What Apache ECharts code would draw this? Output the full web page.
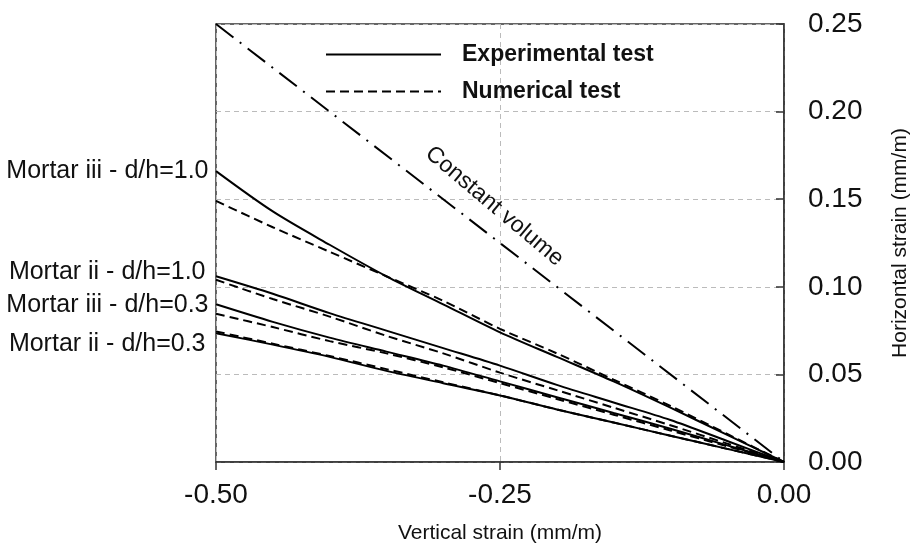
<!DOCTYPE html>
<html>
<head>
<meta charset="utf-8">
<script src="https://cdn.jsdelivr.net/npm/echarts@6/dist/echarts.min.js"></script>
<style>html,body{margin:0;padding:0;background:#fff;}#c{width:923px;height:550px;}</style>
</head>
<body>
<div id="c"></div>
<script>
// Vertical strain (x) sample points
const strainX = [-0.5, -0.45, -0.4, -0.35, -0.3, -0.25, -0.2, -0.15, -0.1, -0.05, 0];
// Experimental test (solid)
const expIii10 = [0.166, 0.143, 0.124, 0.106, 0.090, 0.074, 0.060, 0.046, 0.031, 0.0155, 0];
const expIi10  = [0.106, 0.096, 0.085, 0.075, 0.065, 0.055, 0.044, 0.034, 0.024, 0.012, 0];
const expIii03 = [0.090, 0.080, 0.071, 0.063, 0.055, 0.046, 0.037, 0.028, 0.019, 0.0095, 0];
const expIi03  = [0.0735, 0.067, 0.060, 0.052, 0.045, 0.038, 0.030, 0.0225, 0.015, 0.0075, 0];
// Numerical test (dashed)
const numIii10 = [0.149, 0.134, 0.120, 0.106, 0.092, 0.076, 0.062, 0.047, 0.032, 0.016, 0];
const numIi10  = [0.104, 0.093, 0.083, 0.072, 0.062, 0.051, 0.041, 0.031, 0.021, 0.0105, 0];
const numIii03 = [0.0846, 0.077, 0.069, 0.062, 0.054, 0.045, 0.036, 0.027, 0.018, 0.009, 0];
const numIi03  = [0.0745, 0.0675, 0.0605, 0.053, 0.0455, 0.038, 0.030, 0.0225, 0.015, 0.0075, 0];
// Constant volume line
const constX = [-0.5, 0];
const constY = [0.25, 0];
// Curve labels
const curveLabels = ["Mortar iii - d/h=1.0", "Mortar ii - d/h=1.0", "Mortar iii - d/h=0.3", "Mortar ii - d/h=0.3"];
const legendNames = ["Experimental test", "Numerical test"];
const constLabel = "Constant volume";

const FONT = 'Liberation Sans, Arial, sans-serif';
const labelOffsets = [[0, 0], [-3, -4], [0, 1], [-3, 11]];

function pairs(xs, ys) { return xs.map((x, i) => [x, ys[i]]); }

function expSeries(ys, idx) {
  return { name: legendNames[0], type: 'line', data: pairs(strainX, ys), smooth: 0.3, symbol: 'none', showSymbol: false,
    lineStyle: { color: '#000', width: 2, type: 'solid' }, itemStyle: { color: '#000' }, z: 3,
    markPoint: {
      symbol: 'circle', symbolSize: 1, itemStyle: { color: 'rgba(0,0,0,0)' }, silent: true,
      data: [{ coord: [strainX[0], ys[0]], name: curveLabels[idx] }],
      label: { show: true, position: 'left', distance: 7, offset: labelOffsets[idx], formatter: '{b}',
        fontSize: 25, color: '#111', fontFamily: FONT }
    } };
}
function numSeries(ys) {
  return { name: legendNames[1], type: 'line', data: pairs(strainX, ys), smooth: 0.3, symbol: 'none', showSymbol: false,
    lineStyle: { color: '#000', width: 2, type: [9, 5] }, itemStyle: { color: '#000' }, z: 3 };
}

const chart = echarts.init(document.getElementById('c'), null, { renderer: 'canvas' });
const option = {
  animation: false,
  backgroundColor: '#fff',
  textStyle: { fontFamily: FONT },
  grid: { left: 216, right: 139, top: 24, bottom: 88, show: true, borderColor: '#333', borderWidth: 1.5, containLabel: false },
  legend: {
    data: legendNames,
    orient: 'vertical', left: 320, top: 38,
    itemWidth: 115, itemHeight: 14, itemGap: 14,
    itemStyle: { opacity: 0 },
    textStyle: { fontSize: 23, fontWeight: 'bold', color: '#111', fontFamily: FONT, padding: [0, 0, 0, 16] }
  },
  xAxis: {
    type: 'value', min: -0.5, max: 0, interval: 0.25,
    name: 'Vertical strain (mm/m)', nameLocation: 'middle', nameGap: 61,
    nameTextStyle: { fontSize: 21, color: '#111', fontFamily: FONT },
    axisLine: { show: true, onZero: false, lineStyle: { color: '#333', width: 1.5 } },
    axisTick: { show: true, inside: false, length: 8, lineStyle: { color: '#333', width: 1.5 } },
    axisLabel: { fontSize: 28, color: '#111', margin: 19, fontFamily: FONT, formatter: v => v.toFixed(2) },
    splitLine: { show: true, lineStyle: { color: '#bbb', type: [5, 4], width: 1 } }
  },
  yAxis: {
    type: 'value', position: 'right', min: 0, max: 0.25, interval: 0.05,
    name: 'Horizontal strain (mm/m)', nameLocation: 'middle', nameGap: 106, nameRotate: 90,
    nameTextStyle: { fontSize: 21, color: '#111', fontFamily: FONT },
    axisLine: { show: true, onZero: false, lineStyle: { color: '#333', width: 1.5 } },
    axisTick: { show: true, inside: true, length: 8, lineStyle: { color: '#333', width: 1.5 } },
    axisLabel: { fontSize: 28, color: '#111', margin: 24, fontFamily: FONT, formatter: v => v.toFixed(2) },
    splitLine: { show: true, lineStyle: { color: '#bbb', type: [5, 4], width: 1 } }
  },
  series: [
    { name: constLabel, type: 'line', data: pairs(constX, constY), symbol: 'none', showSymbol: false,
      lineStyle: { color: '#000', width: 2, type: [22, 8, 2, 8] }, z: 2 },
    expSeries(expIii10, 0), expSeries(expIi10, 1), expSeries(expIii03, 2), expSeries(expIi03, 3),
    numSeries(numIii10), numSeries(numIi10), numSeries(numIii03), numSeries(numIi03)
  ]
};
chart.setOption(option);
// "Constant volume" label placed along the constant-volume line
const anchor = chart.convertToPixel({ gridIndex: 0 }, [-0.255, 0.146]);
chart.setOption({
  graphic: [{
    type: 'text', x: anchor[0], y: anchor[1], rotation: -0.70,
    style: { text: constLabel, fontSize: 23, fill: '#111', fontFamily: FONT, align: 'center', verticalAlign: 'middle' }
  }]
});
</script>
</body>
</html>
